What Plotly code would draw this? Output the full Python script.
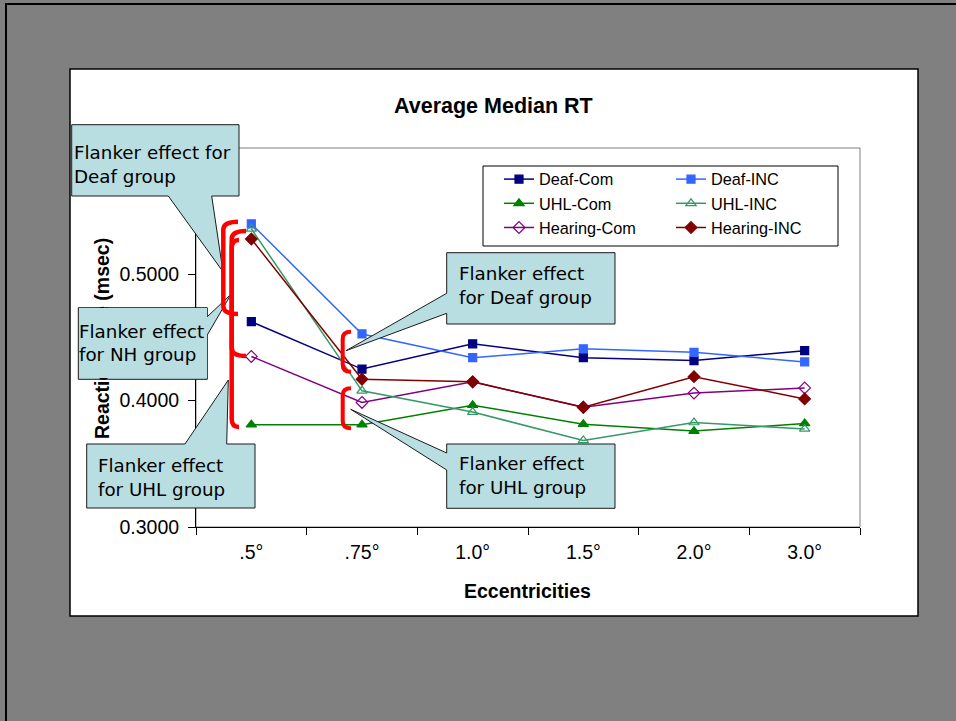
import plotly.graph_objects as go

# ---------------- data ----------------
eccentricities = [".5°", ".75°", "1.0°", "1.5°", "2.0°", "3.0°"]

deaf_com    = [0.4625, 0.4250, 0.4450, 0.4340, 0.4317, 0.4396]
deaf_inc    = [0.5400, 0.4528, 0.4340, 0.4410, 0.4383, 0.4307]
uhl_com     = [0.3810, 0.3810, 0.3964, 0.3814, 0.3759, 0.3820]
uhl_inc     = [0.5360, 0.4078, 0.3910, 0.3685, 0.3827, 0.3776]
hearing_com = [0.4350, 0.3986, 0.4149, 0.3948, 0.4060, 0.4101]
hearing_inc = [0.5280, 0.4170, 0.4149, 0.3948, 0.4190, 0.4014]

y_ticks = [0.3, 0.4, 0.5]

title_text = "Average Median RT"
x_title = "Eccentricities"
y_title = "Reaction Time (msec)"

callout_texts = [
    "Flanker effect for<br>Deaf group",
    "Flanker effect<br>for NH group",
    "Flanker effect<br>for UHL group",
    "Flanker effect<br>for Deaf group",
    "Flanker effect<br>for UHL group",
]

# ---------------- layout geometry (pixels) ----------------
W, H = 956, 721
PL, PR, PT, PB = 196, 860, 148, 527


def px(x):
    return (x - PL) / (PR - PL)


def py(y):
    return (PB - y) / (PB - PT)


def path(points):
    return "M " + " L ".join(f"{px(x):.5f},{py(y):.5f}" for x, y in points) + " Z"


def bracket(xl, xr, yt, yb, r):
    return (f"M {px(xr):.5f},{py(yt):.5f} Q {px(xl):.5f},{py(yt):.5f} {px(xl):.5f},{py(yt + r):.5f} "
            f"L {px(xl):.5f},{py(yb - r):.5f} Q {px(xl):.5f},{py(yb):.5f} {px(xr):.5f},{py(yb):.5f}")


AX_FONT = "Liberation Sans, Arial, sans-serif"
CO_FONT = "DejaVu Sans, Verdana, sans-serif"
CO_FILL = "#B9DEE2"

fig = go.Figure()

series = [
    ("Deaf-Com", deaf_com, "#000080", "square", 8, "legend"),
    ("UHL-Com", uhl_com, "#008000", "triangle-up", 9, "legend"),
    ("Hearing-Com", hearing_com, "#800080", "diamond-open", 9, "legend"),
    ("Deaf-INC", deaf_inc, "#3366FF", "square", 8, "legend2"),
    ("UHL-INC", uhl_inc, "#339966", "triangle-up-open", 9, "legend2"),
    ("Hearing-INC", hearing_inc, "#800000", "diamond", 9, "legend2"),
]

for name, vals, color, sym, size, leg in series:
    fig.add_trace(go.Scatter(
        x=eccentricities, y=vals, name=name, mode="lines+markers",
        line=dict(color=color, width=1.5),
        marker=dict(symbol=sym, size=size, color=color, line=dict(color=color, width=1.2)),
        legend=leg,
    ))

shapes = []
# outer slide border
shapes.append(dict(type="rect", xref="paper", yref="paper", layer="below",
                   x0=px(6), x1=px(1100), y0=py(4), y1=py(900),
                   line=dict(color="black", width=2), fillcolor="rgba(0,0,0,0)"))
# white chart area
shapes.append(dict(type="rect", xref="paper", yref="paper", layer="below",
                   x0=px(70), x1=px(918), y0=py(69), y1=py(616),
                   line=dict(color="black", width=1.5), fillcolor="white"))
# plot area border (gray)
shapes.append(dict(type="rect", xref="paper", yref="paper", layer="below",
                   x0=0, x1=1, y0=0, y1=1,
                   line=dict(color="#808080", width=1), fillcolor="rgba(0,0,0,0)"))
# legend box
shapes.append(dict(type="rect", xref="paper", yref="paper", layer="above",
                   x0=px(483), x1=px(838), y0=py(166), y1=py(246),
                   line=dict(color="black", width=1), fillcolor="white"))

# callout bodies with pointers
callouts = [
    [(71.7, 124.7), (239, 124.7), (239, 196), (211.7, 196), (223, 271.7), (168.3, 196), (71.7, 196)],
    [(78.3, 307.7), (207.3, 307.7), (207.3, 316.7), (231, 294.3), (207.3, 335), (207.3, 379.3), (78.3, 379.3)],
    [(86.7, 444), (185, 444), (228.3, 380), (226.7, 444), (255, 444), (255, 508), (86.7, 508)],
    [(446.7, 252.7), (615, 252.7), (615, 324), (446.7, 324), (446.7, 313.3), (346, 350.7), (446.7, 293.3)],
    [(446.7, 444), (615, 444), (615, 508.3), (446.7, 508.3), (446.7, 470), (350.7, 409.3), (446.7, 453)],
]
for pts in callouts:
    shapes.append(dict(type="path", xref="paper", yref="paper", layer="above",
                       path=path(pts), fillcolor=CO_FILL,
                       line=dict(color="#1a1a1a", width=1)))

# red brackets
red = dict(color="#FF0000", width=4.5)
shapes.append(dict(type="path", xref="paper", yref="paper", layer="above",
                   path=bracket(223.3, 238, 221.7, 314, 8), line=red))
shapes.append(dict(type="path", xref="paper", yref="paper", layer="above",
                   path=bracket(231.7, 246, 231, 356, 8), line=red))
shapes.append(dict(type="path", xref="paper", yref="paper", layer="above",
                   path=bracket(231.7, 239, 240, 427, 8), line=red))
red2 = dict(color="#FF0000", width=4)
shapes.append(dict(type="path", xref="paper", yref="paper", layer="above",
                   path=bracket(342.7, 351, 331.7, 371.7, 7), line=red2))
shapes.append(dict(type="path", xref="paper", yref="paper", layer="above",
                   path=bracket(342.7, 351, 388.3, 428.3, 7), line=red2))

annotations = []
annotations.append(dict(text=f"<b>{title_text}</b>", xref="paper", yref="paper",
                        x=px(493), y=py(106), xanchor="center", yanchor="middle",
                        showarrow=False, font=dict(family=AX_FONT, size=21.5, color="black")))
annotations.append(dict(text=f"<b>{x_title}</b>", xref="paper", yref="paper",
                        x=px(527), y=py(591), xanchor="center", yanchor="middle",
                        showarrow=False, font=dict(family=AX_FONT, size=19.5, color="black")))
annotations.append(dict(text=f"<b>{y_title}</b>", xref="paper", yref="paper",
                        x=px(102), y=py(338), xanchor="center", yanchor="middle", textangle=-90,
                        showarrow=False, font=dict(family=AX_FONT, size=19.5, color="black")))

co_pos = [(73, 164.2), None, (97.3, 477), (457.7, 285), (457.7, 475.5)]
for t, pos in zip(callout_texts, co_pos):
    if pos is None:
        annotations.append(dict(text=t, xref="paper", yref="paper",
                                x=px(79.0), y=py(308.4), xanchor="left", yanchor="top",
                                width=127.6, height=70.2, align="left", valign="middle",
                                bgcolor=CO_FILL, borderpad=0, borderwidth=0,
                                showarrow=False,
                                font=dict(family=CO_FONT, size=18.3, color="black")))
    else:
        annotations.append(dict(text=t, xref="paper", yref="paper",
                                x=px(pos[0]), y=py(pos[1]), xanchor="left", yanchor="middle",
                                align="left", borderpad=0, showarrow=False,
                                font=dict(family=CO_FONT, size=18.3, color="black")))

fig.update_layout(
    width=W, height=H, autosize=False,
    margin=dict(l=PL, r=W - PR, t=PT, b=H - PB, pad=0),
    paper_bgcolor="#808080", plot_bgcolor="white",
    showlegend=True,
    legend=dict(x=px(499), y=py(162), xanchor="left", yanchor="top",
                orientation="v", bgcolor="rgba(0,0,0,0)", borderwidth=0,
                font=dict(family=AX_FONT, size=16.3, color="black"), traceorder="normal"),
    legend2=dict(x=px(671), y=py(162), xanchor="left", yanchor="top",
                 orientation="v", bgcolor="rgba(0,0,0,0)", borderwidth=0,
                 font=dict(family=AX_FONT, size=16.3, color="black"), traceorder="normal"),
    xaxis=dict(type="category", range=[-0.5, 5.5], showline=True, linecolor="black", linewidth=1,
               ticks="outside", ticklen=7, tickcolor="black", tickson="boundaries",
               showgrid=False, zeroline=False, ticklabelstandoff=8,
               tickfont=dict(family=AX_FONT, size=19.5, color="black"), fixedrange=True),
    yaxis=dict(range=[0.3, 0.6], tickvals=y_ticks, tickformat=".4f",
               showline=True, linecolor="black", linewidth=1,
               ticks="outside", ticklen=7, tickcolor="black",
               showgrid=False, zeroline=False, ticklabelstandoff=5,
               tickfont=dict(family=AX_FONT, size=19.5, color="black"), fixedrange=True),
    shapes=shapes,
    annotations=annotations,
    hovermode=False,
)

fig.write_html("out.html")
